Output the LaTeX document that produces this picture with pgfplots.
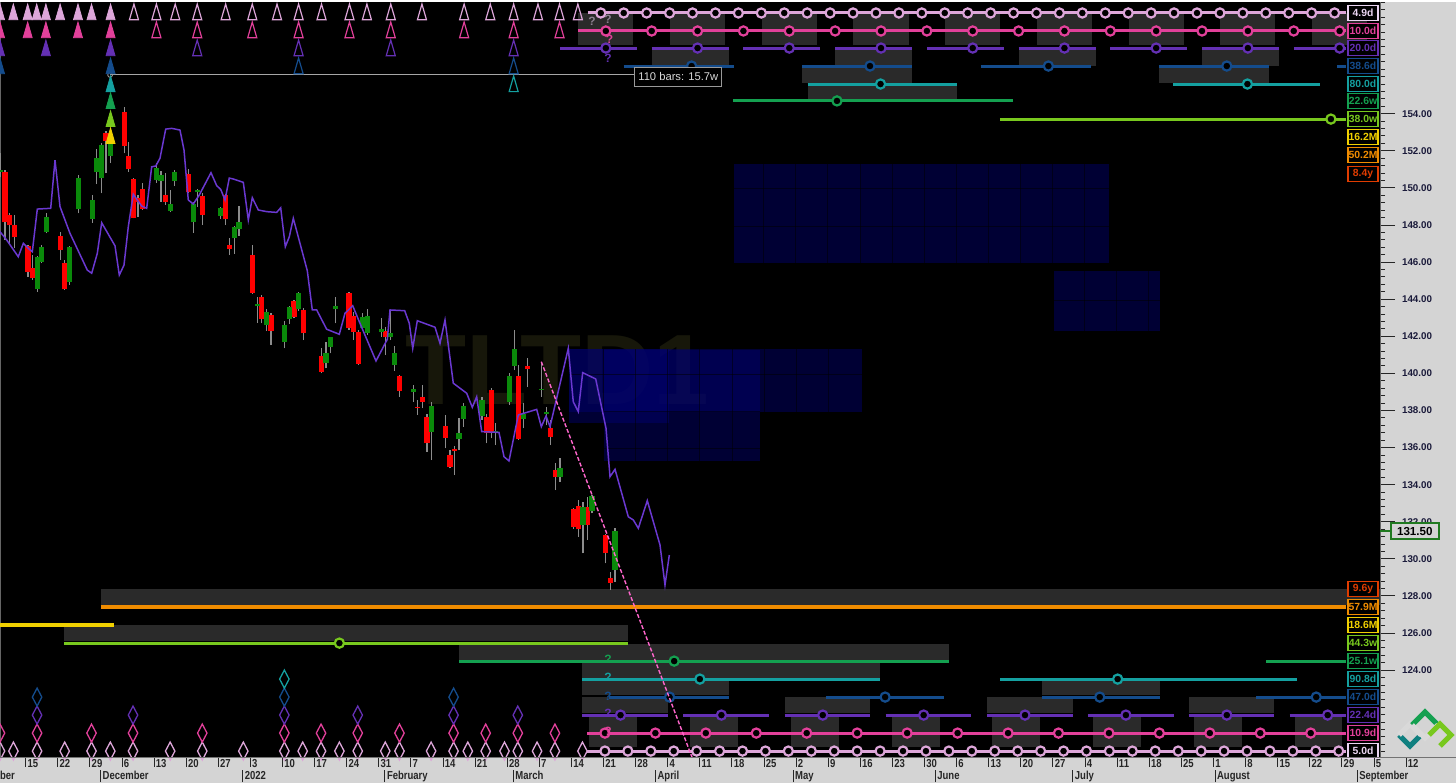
\documentclass[border=0pt]{standalone}
\usepackage{fontspec}
\setmainfont{Liberation Sans}
\newfontfamily\narrowsans[FakeStretch=0.82]{Liberation Sans}
\usepackage{pgfplots}
\pgfplotsset{compat=1.18}
\usepackage{pgfplotstable}

\definecolor{panel}{HTML}{D4D4D4}
\definecolor{gbox}{HTML}{2A2A2A}
\definecolor{c5d}{HTML}{DDA6D9}
\definecolor{c5dt}{HTML}{EBD5F2}
\definecolor{c10d}{HTML}{E2409A}
\definecolor{c20d}{HTML}{6430B4}
\definecolor{c40d}{HTML}{144C8C}
\definecolor{c80d}{HTML}{14A0A0}
\definecolor{c20w}{HTML}{14A050}
\definecolor{c40w}{HTML}{78C81E}
\definecolor{c18M}{HTML}{F0D000}
\definecolor{c54M}{HTML}{F08C00}
\definecolor{c9y}{HTML}{E03C00}
\definecolor{fld}{HTML}{6A38D0}
\definecolor{cred}{HTML}{FF0000}
\definecolor{cgreen}{HTML}{0A8A0A}
\definecolor{wick}{HTML}{8C8C8C}
\definecolor{navyb}{HTML}{000074}
\definecolor{trend}{HTML}{FF66CC}
\definecolor{wm}{HTML}{17170A}
\definecolor{ticktext}{HTML}{1A1A3A}
\definecolor{c131}{HTML}{207A20}

% down (red) candles: day, open, high, low, close
\pgfplotstableread{
d o h l c
-5 150.88 150.95 147.19 148.18
-4 148.54 148.63 147.01 148.00
-3 148.00 148.54 146.74 147.34
0 146.89 146.92 145.21 145.49
1 145.66 146.38 145.04 145.12
7 147.41 147.64 146.11 146.65
8 145.93 146.11 144.50 144.53
17 152.98 153.05 150.79 152.55
21 154.07 154.38 151.86 152.26
22 151.72 152.49 150.88 151.00
23 150.48 150.55 148.36 148.40
24 149.44 149.62 148.45 149.26
25 149.92 150.25 148.81 148.86
30 149.62 150.79 149.08 149.26
35 150.75 151.02 149.71 149.76
38 149.58 149.71 148.00 148.54
43 149.62 149.65 148.00 148.31
44 146.92 147.32 146.38 146.71
49 146.38 146.92 144.28 144.35
51 144.14 144.20 142.70 142.93
53 143.15 143.24 141.53 142.29
58 143.90 143.96 142.97 143.06
60 143.42 143.50 141.80 142.16
64 140.94 141.35 140.00 140.09
70 144.32 144.37 142.34 142.43
71 143.09 143.33 141.80 142.25
72 142.25 142.34 140.45 140.51
78 142.30 142.52 140.99 141.94
81 139.86 139.90 138.74 139.05
85 138.21 138.57 137.76 138.13
86 138.74 139.36 138.12 138.48
87 137.67 137.81 135.78 136.23
91 137.17 137.76 135.96 136.52
92 135.60 135.87 134.88 134.97
93 135.93 136.09 134.52 135.80
100 137.67 137.80 136.23 136.77
101 139.10 139.20 136.50 136.77
107 139.86 140.45 136.41 136.46
109 140.40 140.81 139.28 140.25
114 137.08 137.49 136.14 136.59
115 134.79 135.15 133.71 134.43
119 132.67 132.75 131.60 131.74
120 132.85 133.17 131.20 131.59
122 132.78 133.36 131.02 131.83
126 131.29 131.35 129.76 130.34
127 128.95 129.31 128.32 128.72
}\downbars

% up (green) candles: day, open, high, low, close
\pgfplotstableread{
d o h l c
-6 150.86 151.86 150.61 150.95
2 144.53 146.35 144.41 146.29
3 146.02 146.92 145.93 146.83
4 147.60 148.63 147.55 148.41
9 144.95 146.89 144.77 146.83
11 148.86 150.70 148.63 150.55
14 148.32 149.62 148.13 149.35
15 150.84 152.08 150.21 151.59
16 150.52 152.40 149.71 152.31
18 151.74 152.90 151.33 152.58
28 150.43 151.33 150.28 151.05
29 150.39 150.91 149.26 150.68
31 148.77 149.89 148.68 149.13
32 150.37 150.96 150.10 150.84
36 148.14 149.26 147.59 149.13
37 149.80 149.95 148.99 149.90
42 148.50 148.99 148.32 148.93
45 147.28 147.95 146.44 147.91
46 147.80 149.04 147.43 148.18
50 143.65 144.14 142.74 143.73
52 142.61 143.45 142.29 143.33
56 141.71 142.83 141.35 142.61
57 142.93 143.65 142.66 143.56
59 143.45 144.37 143.38 144.32
65 140.54 141.71 140.27 141.08
66 141.41 141.98 141.08 141.94
67 143.45 144.14 142.70 143.63
73 142.43 143.24 142.34 143.06
74 142.16 143.45 142.07 143.11
77 142.25 142.97 141.98 142.37
79 141.98 143.42 141.80 142.20
80 140.45 141.48 140.15 141.08
84 139.02 139.38 138.48 139.14
88 136.86 138.48 135.33 138.24
94 136.46 137.58 135.87 136.80
95 137.54 138.42 137.13 138.24
99 137.70 138.71 137.50 138.57
102 136.80 137.31 136.14 136.90
105 138.48 140.04 138.30 139.86
106 140.40 142.34 140.18 141.30
108 137.53 138.39 137.04 137.79
112 139.08 140.63 138.75 139.16
113 137.80 138.20 137.20 137.90
116 134.40 135.42 134.16 134.88
121 131.83 133.08 130.30 132.78
123 132.60 133.45 132.45 133.39
128 129.40 131.65 128.77 131.52
}\upbars

% offset price line
\pgfplotstableread{
d p
-6.11 147.64
-4.64 147.19
-2.12 146.29
-1.02 147.01
0.07 146.74
0.94 146.56
2.03 148.86
4.95 148.90
5.89 151.50
6.98 148.99
9.16 147.55
12.93 145.57
13.89 145.40
15.11 146.47
16.07 148.12
18.97 146.88
19.91 145.30
20.93 145.84
21.87 147.91
22.96 149.66
23.83 149.35
24.79 149.02
25.88 148.90
26.97 151.14
27.85 151.18
28.78 151.60
30.03 153.17
31.33 153.21
33.14 153.12
34.02 152.04
34.95 149.35
36.04 149.13
37.35 149.62
39.90 150.82
41.15 150.12
42.02 149.92
42.96 149.35
43.89 150.53
44.77 150.48
46.95 150.30
48.04 148.27
48.91 149.47
50.22 148.81
52.05 148.72
54.23 148.68
55.10 148.93
56.11 146.83
56.98 147.37
57.85 148.36
60.90 145.54
61.99 143.42
62.95 143.42
65.13 142.38
67.88 142.11
69.12 143.24
70.80 143.65
72.39 142.70
75.88 140.67
78.35 141.84
78.94 143.42
82.14 143.38
83.14 142.70
83.89 141.35
84.89 142.84
88.75 142.49
89.84 141.62
90.93 142.88
92.74 139.47
95.66 138.93
96.88 138.17
97.84 138.74
98.93 136.86
102.70 136.82
103.79 135.51
104.88 135.28
106.91 137.76
110.92 138.06
111.93 137.13
112.95 137.70
113.83 137.13
117.81 141.35
118.90 138.47
119.99 137.94
120.95 140.04
123.79 139.70
126.04 137.04
126.91 134.43
128.00 134.83
130.90 132.27
131.99 132.10
133.08 131.65
135.04 133.14
137.81 130.75
138.90 128.59
139.84 130.21
}\fldtable

\newcommand{\grect}[5][gbox]{\addplot[fill=#1, draw=none, forget plot] coordinates {(#2,#4) (#3,#4) (#3,#5) (#2,#5)};}
\newcommand{\nrect}[4]{\addplot[fill=navyb, fill opacity=0.45, draw=none, forget plot] coordinates {(#1,#3) (#2,#3) (#2,#4) (#1,#4)};}
\newcommand{\seg}[4]{\addplot[#4, line width=1.5pt, forget plot] coordinates {(#1,#3) (#2,#3)};}
\newcommand{\circs}[2]{\addplot[only marks, mark=*, mark size=2.3pt, mark options={draw=#1, fill=black, line width=1.1pt}, forget plot] coordinates {#2};}
\newcommand{\lbl}[4][]{\node[draw=#3, line width=0.6pt, fill=black, text=#3, font=\bfseries\fontsize{5.2}{5.2}\selectfont, minimum width=15pt, minimum height=7.5pt, inner sep=0.3pt,#1] at (axis cs:291.1,#2) {#4};}
\newcommand{\qm}[3]{\node[text=#3, font=\bfseries\fontsize{6}{6}\selectfont, inner sep=0pt] at (axis cs:#1,#2) {?};}
\newcommand{\mrule}{\rule[-1.5pt]{0.5pt}{6pt}\hspace{0.8pt}}

\begin{document}
\begin{tikzpicture}
\fill[panel] (0,0) rectangle (728pt,391.5pt);
\begin{axis}[
  at={(0pt,13pt)}, anchor=south west,
  scale only axis, width=690pt, height=378.5pt,
  xmin=-6.106, xmax=294.81, ymin=119.32, ymax=160.13,
  axis background/.style={fill=black},
  axis line style={draw=black!60, line width=0.4pt},
  clip mode=individual,
  xtick=\empty,
  ytick={124,126,...,154},
  minor ytick={119.6,120,...,160},
  ytick pos=right, yticklabel pos=right,
  tick align=outside,
  major tick length=7.5pt, minor tick length=2.5pt,
  tick style={draw=black!85, line width=0.5pt},
  yticklabel style={font=\bfseries\fontsize{4.9}{5.5}\selectfont, text=ticktext, anchor=west},
  /pgf/number format/.cd, fixed, fixed zerofill, precision=2, assume math mode=true
]
% watermark
\node[text=wm, font=\bfseries\fontsize{50}{50}\selectfont, inner sep=0pt] at (axis cs:115.5,140.2) {TLTD1};

% navy time/price boxes
\nrect{153.9}{235.8}{145.93}{151.29}
\nrect{223.7}{246.8}{142.30}{145.52}
\nrect{117.9}{181.8}{137.93}{141.30}
\nrect{125.5}{159.7}{135.29}{141.26}
\nrect{117.9}{139.7}{137.33}{141.30}
\pgfplotsinvokeforeach{160.4,167.4,...,230.4}{\addplot[black, draw opacity=0.5, line width=0.4pt, forget plot] coordinates {(#1,145.93) (#1,151.29)};}
\addplot[black, draw opacity=0.5, line width=0.4pt, forget plot] coordinates {(153.9,149.98) (235.8,149.98)};
\addplot[black, draw opacity=0.5, line width=0.4pt, forget plot] coordinates {(153.9,147.95) (235.8,147.95)};
\pgfplotsinvokeforeach{230.4,237.4,244.4}{\addplot[black, draw opacity=0.5, line width=0.4pt, forget plot] coordinates {(#1,142.30) (#1,145.52)};}
\addplot[black, draw opacity=0.5, line width=0.4pt, forget plot] coordinates {(223.7,143.92) (246.8,143.92)};
\pgfplotsinvokeforeach{125.5,132.5,139.5,146.5,153.5,160.5,167.5,174.5}{\addplot[black, draw opacity=0.5, line width=0.4pt, forget plot] coordinates {(#1,137.93) (#1,141.30)};}
\pgfplotsinvokeforeach{132.5,139.5,146.5,153.5}{\addplot[black, draw opacity=0.5, line width=0.4pt, forget plot] coordinates {(#1,135.29) (#1,137.93)};}
\addplot[black, draw opacity=0.5, line width=0.4pt, forget plot] coordinates {(117.9,139.97) (181.8,139.97)};
\addplot[black, draw opacity=0.5, line width=0.4pt, forget plot] coordinates {(125.5,137.97) (159.7,137.97)};
\addplot[black, draw opacity=0.5, line width=0.4pt, forget plot] coordinates {(125.5,135.96) (159.7,135.96)};

% ---- top cycle boxes
\pgfplotsinvokeforeach{126,146,166,186,206,226,246,266,286}{\grect{#1-6}{#1+6}{157.70}{159.43}}
\pgfplotsinvokeforeach{146,186,226,266}{\grect{#1-10}{#1+6.8}{156.57}{157.54}}
\grect{168.8}{192.8}{155.66}{156.57}
\grect{246.6}{270.6}{155.66}{156.57}
\grect{170}{202.6}{154.74}{155.60}

% ---- bottom cycle boxes
\grect{15.9}{294.9}{127.51}{128.38}
\grect{7.85}{130.8}{125.57}{126.44}
\grect{94.0}{200.8}{124.55}{125.41}
\grect{120.9}{185.7}{123.58}{124.44}
\grect{120.9}{152.8}{122.66}{123.52}
\grect{221.0}{246.8}{122.66}{123.52}
\pgfplotsinvokeforeach{120.9,165.0,209.1,253.1}{\grect{#1}{#1+18.7}{121.69}{122.55}}
\pgfplotsinvokeforeach{122.4,144.4,166.4,188.4,210.3,232.3,254.3,276.2}{\grect{#1}{#1+10.4}{119.86}{121.58}}

% ---- top cycle lines
\seg{122}{287.5}{159.43}{c5d}
\circs{c5d}{(124.9,159.43) (129.9,159.43) (134.9,159.43) (139.9,159.43) (144.9,159.43) (149.9,159.43) (154.9,159.43) (159.9,159.43) (164.9,159.43) (169.9,159.43) (174.9,159.43) (179.9,159.43) (184.9,159.43) (189.9,159.43) (194.9,159.43) (199.9,159.43) (204.9,159.43) (209.9,159.43) (214.9,159.43) (219.9,159.43) (224.9,159.43) (229.9,159.43) (234.9,159.43) (239.9,159.43) (244.9,159.43) (249.9,159.43) (254.9,159.43) (259.9,159.43) (264.9,159.43) (269.9,159.43) (274.9,159.43) (279.9,159.43) (284.9,159.43)}
\seg{119.9}{287.5}{158.46}{c10d}
\circs{c10d}{(126,158.46) (136,158.46) (146,158.46) (156,158.46) (166,158.46) (176,158.46) (186,158.46) (196,158.46) (206,158.46) (216,158.46) (226,158.46) (236,158.46) (246,158.46) (256,158.46) (266,158.46) (276,158.46) (286,158.46)}
\pgfplotsinvokeforeach{126,146,166,186,206,226,246,266}{\seg{#1-10}{#1+6.8}{157.54}{c20d}}
\seg{276}{287.5}{157.54}{c20d}
\circs{c20d}{(126,157.54) (146,157.54) (166,157.54) (186,157.54) (206,157.54) (226,157.54) (246,157.54) (266,157.54) (286,157.54)}
\pgfplotsinvokeforeach{144.7,183.6,222.5,261.4}{\seg{#1-14.8}{#1+9.2}{156.57}{c40d}}
\seg{285.5}{287.5}{156.57}{c40d}
\circs{c40d}{(144.7,156.57) (183.6,156.57) (222.5,156.57) (261.4,156.57)}
\seg{170}{202.6}{155.60}{c80d}
\seg{249.7}{281.8}{155.60}{c80d}
\circs{c80d}{(185.9,155.60) (265.9,155.60)}
\seg{153.8}{214.8}{154.69}{c20w}
\circs{c20w}{(176.4,154.69)}
\seg{211.9}{287.5}{153.71}{c40w}
\circs{c40w}{(284.1,153.71)}

% ---- bottom cycle lines
\addplot[c54M, line width=2pt, forget plot] coordinates {(15.9,127.43) (287.5,127.43)};
\addplot[c18M, line width=1.8pt, forget plot] coordinates {(-7,126.44) (18.75,126.44)};
\seg{7.85}{130.8}{125.46}{c40w}
\circs{c40w}{(67.9,125.46)}
\seg{94.0}{200.8}{124.49}{c20w}
\seg{270}{287.5}{124.49}{c20w}
\circs{c20w}{(140.9,124.49)}
\seg{120.9}{185.7}{123.52}{c80d}
\seg{211.9}{276.7}{123.52}{c80d}
\circs{c80d}{(146.5,123.52) (237.6,123.52)}
\seg{126.7}{152.8}{122.55}{c40d}
\seg{173.9}{199.8}{122.55}{c40d}
\seg{221.0}{246.8}{122.55}{c40d}
\seg{267.8}{287.5}{122.55}{c40d}
\circs{c40d}{(139.9,122.55) (186.9,122.55) (233.7,122.55) (280.9,122.55)}
\pgfplotsinvokeforeach{129.2,151.2,173.3,195.3,217.4,239.4,261.4}{\seg{#1-8.3}{#1+10.4}{121.58}{c20d}}
\seg{275.1}{287.5}{121.58}{c20d}
\circs{c20d}{(129.2,121.58) (151.2,121.58) (173.3,121.58) (195.3,121.58) (217.4,121.58) (239.4,121.58) (261.4,121.58) (283.4,121.58)}
\seg{121.9}{287.5}{120.61}{c10d}
\circs{c10d}{(125.8,120.61) (136.8,120.61) (147.8,120.61) (158.8,120.61) (169.8,120.61) (180.8,120.61) (191.7,120.61) (202.7,120.61) (213.7,120.61) (224.7,120.61) (235.7,120.61) (246.7,120.61) (257.7,120.61) (268.7,120.61) (279.7,120.61)}
\seg{121.9}{287.5}{119.64}{c5d}
\circs{c5d}{(125.8,119.64) (130.8,119.64) (135.8,119.64) (140.8,119.64) (145.8,119.64) (150.8,119.64) (155.8,119.64) (160.8,119.64) (165.8,119.64) (170.8,119.64) (175.8,119.64) (180.8,119.64) (185.8,119.64) (190.8,119.64) (195.8,119.64) (200.8,119.64) (205.8,119.64) (210.8,119.64) (215.8,119.64) (220.8,119.64) (225.8,119.64) (230.8,119.64) (235.8,119.64) (240.8,119.64) (245.8,119.64) (250.8,119.64) (255.8,119.64) (260.8,119.64) (265.8,119.64) (270.8,119.64) (275.8,119.64) (280.8,119.64) (285.8,119.64)}

% ---- 110 bars line
\addplot[black!35!white, line width=0.5pt, mark=none, forget plot] coordinates {(17.9,156.09) (132.8,156.09)};
\addplot[only marks, mark=o, mark size=1.2pt, mark options={draw=black!35!white, line width=0.4pt}, forget plot] coordinates {(17.9,156.09)};

% ---- candles
\addplot[draw=none, mark=none, forget plot, error bars/.cd, y dir=plus, y explicit, error mark=none, error bar style={line width=0.6pt, draw=wick}] table[x=d, y=l, y error plus expr={\thisrow{h}-\thisrow{l}}] {\downbars};
\addplot[draw=none, mark=none, forget plot, error bars/.cd, y dir=plus, y explicit, error mark=none, error bar style={line width=0.6pt, draw=wick}] table[x=d, y=l, y error plus expr={\thisrow{h}-\thisrow{l}}] {\upbars};
\addplot[draw=none, mark=none, forget plot, error bars/.cd, y dir=plus, y explicit, error mark=none, error bar style={line width=2.6pt, draw=cred}] table[x=d, y=c, y error plus expr={\thisrow{o}-\thisrow{c}}] {\downbars};
\addplot[draw=none, mark=none, forget plot, error bars/.cd, y dir=plus, y explicit, error mark=none, error bar style={line width=2.6pt, draw=cgreen}] table[x=d, y=o, y error plus expr={\thisrow{c}-\thisrow{o}}] {\upbars};

% ---- offset line and trend line
\addplot[fld, line width=0.75pt, forget plot] table[x=d, y=p] {\fldtable};
\addplot[trend, line width=0.7pt, dash pattern=on 2pt off 1pt, forget plot] coordinates {(111.93,140.63) (146.5,118.2)};

% ---- top triangles (peak markers)
\addplot[only marks, mark=triangle*, mark size=2.6pt, mark options={yscale=2, draw=c5d, fill=c5d}, forget plot] coordinates {(-6.1,159.35) (-3.2,159.35) (-0.07,159.35) (1.9,159.35) (3.9,159.35) (7.0,159.35) (10.9,159.35) (13.85,159.35) (18.0,159.35)};
\addplot[only marks, mark=triangle, mark size=2.6pt, mark options={yscale=2, draw=c5d, fill=black, line width=0.6pt}, forget plot] coordinates {(23.1,159.35) (28.0,159.35) (32.1,159.35) (36.9,159.35) (43.1,159.35) (48.9,159.35) (54.3,159.35) (59.0,159.35) (64.0,159.35) (70.1,159.35) (73.9,159.35) (79.1,159.35) (85.9,159.35) (95.1,159.35) (100.8,159.35) (105.9,159.35) (111.2,159.35) (115.9,159.35) (119.9,159.35)};
\addplot[only marks, mark=triangle*, mark size=2.6pt, mark options={yscale=2, draw=c10d, fill=c10d}, forget plot] coordinates {(-6.1,158.38) (-0.07,158.38) (3.9,158.38) (10.9,158.38) (18.0,158.38)};
\addplot[only marks, mark=triangle, mark size=2.6pt, mark options={yscale=2, draw=c10d, fill=black, line width=0.6pt}, forget plot] coordinates {(28.0,158.38) (36.9,158.38) (48.9,158.38) (59.0,158.38) (70.1,158.38) (79.1,158.38) (95.1,158.38) (105.9,158.38) (115.9,158.38)};
\addplot[only marks, mark=triangle*, mark size=2.6pt, mark options={yscale=2, draw=c20d, fill=c20d}, forget plot] coordinates {(-6.1,157.41) (3.9,157.41) (18.0,157.41)};
\addplot[only marks, mark=triangle, mark size=2.6pt, mark options={yscale=2, draw=c20d, fill=black, line width=0.6pt}, forget plot] coordinates {(36.9,157.41) (59.0,157.41) (79.1,157.41) (105.9,157.41)};
\addplot[only marks, mark=triangle*, mark size=2.6pt, mark options={yscale=2, draw=c40d, fill=c40d}, forget plot] coordinates {(-6.1,156.44) (18.0,156.44)};
\addplot[only marks, mark=triangle, mark size=2.6pt, mark options={yscale=2, draw=c40d, fill=black, line width=0.6pt}, forget plot] coordinates {(59.0,156.44) (105.9,156.44)};
\addplot[only marks, mark=triangle*, mark size=2.6pt, mark options={yscale=2, draw=c80d, fill=c80d}, forget plot] coordinates {(18.0,155.47)};
\addplot[only marks, mark=triangle, mark size=2.6pt, mark options={yscale=2, draw=c80d, fill=black, line width=0.6pt}, forget plot] coordinates {(105.9,155.47)};
\addplot[only marks, mark=triangle*, mark size=2.6pt, mark options={yscale=2, draw=c20w, fill=c20w}, forget plot] coordinates {(18.0,154.56)};
\addplot[only marks, mark=triangle*, mark size=2.6pt, mark options={yscale=2, draw=c40w, fill=c40w}, forget plot] coordinates {(18.0,153.59)};
\addplot[only marks, mark=triangle*, mark size=2.6pt, mark options={yscale=2, draw=c18M, fill=c18M}, forget plot] coordinates {(18.0,152.67)};

% ---- bottom diamonds (trough markers)
\addplot[only marks, mark=diamond, mark size=4.5pt, mark options={xscale=0.7, draw=c5d, fill=black, line width=0.65pt}, forget plot] coordinates {(-6.1,119.64) (-3.18,119.64) (1.98,119.64) (8.0,119.64) (13.85,119.64) (17.95,119.64) (22.9,119.64) (31.0,119.64) (38.0,119.64) (46.95,119.64) (55.9,119.64) (59.9,119.64) (63.9,119.64) (67.9,119.64) (71.9,119.64) (77.9,119.64) (81.0,119.64) (87.9,119.64) (92.8,119.64) (95.9,119.64) (99.8,119.64) (103.9,119.64) (106.8,119.64) (111.0,119.64) (114.9,119.64) (120.9,119.64)};
\addplot[only marks, mark=diamond, mark size=4.5pt, mark options={xscale=0.7, draw=c10d, fill=black, line width=0.65pt}, forget plot] coordinates {(-6.1,120.61) (1.98,120.61) (13.85,120.61) (22.9,120.61) (38.0,120.61) (55.9,120.61) (63.9,120.61) (71.9,120.61) (81.0,120.61) (92.8,120.61) (99.8,120.61) (106.8,120.61) (114.9,120.61)};
\addplot[only marks, mark=diamond, mark size=4.5pt, mark options={xscale=0.7, draw=c20d, fill=black, line width=0.65pt}, forget plot] coordinates {(1.98,121.58) (22.9,121.58) (55.9,121.58) (71.9,121.58) (92.8,121.58) (106.8,121.58)};
\addplot[only marks, mark=diamond, mark size=4.5pt, mark options={xscale=0.7, draw=c40d, fill=black, line width=0.65pt}, forget plot] coordinates {(1.98,122.55) (55.9,122.55) (92.8,122.55)};
\addplot[only marks, mark=diamond, mark size=4.5pt, mark options={xscale=0.7, draw=c80d, fill=black, line width=0.65pt}, forget plot] coordinates {(55.9,123.52)};

% ---- question marks
\qm{123}{159.0}{black!40!c5dt}
\qm{126.5}{159.1}{black!40!c5dt}
\qm{126.8}{158.0}{c10d}
\qm{126.5}{157.0}{c20d}
\qm{126.5}{124.6}{c20w}
\qm{126.5}{123.6}{c80d}
\qm{126.5}{122.6}{c40d}
\qm{126.5}{121.7}{c20d}
\qm{126.5}{120.7}{c10d}

% ---- 110 bars label
\node[draw=black!40!white, line width=0.5pt, fill=black, text=black!15!white, font=\fontsize{5.6}{6}\selectfont, minimum width=43.5pt, minimum height=9.5pt, inner sep=0.5pt] at (axis cs:141.8,156.0) {110 bars: 15.7w};

% ---- right side cycle labels
\lbl{159.43}{c5dt}{4.9d}
\lbl{158.46}{c10d}{10.0d}
\lbl{157.54}{c20d}{20.0d}
\lbl{156.57}{c40d}{38.6d}
\lbl{155.60}{c80d}{80.0d}
\lbl{154.69}{c20w}{22.6w}
\lbl{153.71}{c40w}{38.0w}
\lbl{152.74}{c18M}{16.2M}
\lbl{151.77}{c54M}{50.2M}
\lbl{150.75}{c9y}{8.4y}
\lbl{128.38}{c9y}{9.6y}
\lbl{127.41}{c54M}{57.9M}
\lbl{126.44}{c18M}{18.6M}
\lbl{125.46}{c40w}{44.3w}
\lbl{124.49}{c20w}{25.1w}
\lbl{123.52}{c80d}{90.8d}
\lbl{122.55}{c40d}{47.0d}
\lbl{121.58}{c20d}{22.4d}
\lbl{120.61}{c10d}{10.9d}
\lbl{119.64}{c5dt}{5.0d}

% ---- last price
\draw[c131, line width=0.8pt] (axis cs:294.81,131.5) -- (axis cs:297.2,131.5);
\node[draw=c131, line width=0.9pt, fill=panel, text=black, font=\bfseries\fontsize{5.8}{6}\selectfont, minimum width=24pt, minimum height=8pt, inner sep=0.5pt] at (axis cs:302.4,131.5) {131.50};
\end{axis}

% ---- date axis
\begin{axis}[
  at={(0pt,0pt)}, anchor=south west,
  scale only axis, width=728pt, height=13pt,
  xmin=-6.106, xmax=311.38, ymin=0, ymax=1,
  axis line style={draw=none},
  ytick=\empty,
  xtick={-0.5,6.5,...,300.5},
  xticklabels={15,22,29,6,13,20,27,3,10,17,24,31,7,14,21,28,7,14,21,28,4,11,18,25,2,9,16,23,30,6,13,20,27,4,11,18,25,1,8,15,22,29,5,12},
  xtick pos=right, xticklabel pos=right,
  tick align=inside, major tick length=5pt,
  tick style={draw=black!85, line width=0.5pt},
  xticklabel style={anchor=north west, inner sep=0.5pt, xshift=0.2pt, yshift=-0.5pt, font=\narrowsans\bfseries\fontsize{5.8}{6}\selectfont, text=black!85},
  extra x ticks={15.5,46.5,77.5,105.5,136.5,166.5,197.5,227.5,258.5,289.5},
  extra x tick labels={{\mrule December},{\mrule 2022},{\mrule February},{\mrule March},{\mrule April},{\mrule May},{\mrule June},{\mrule July},{\mrule August},{\mrule September}},
  extra x tick style={major tick length=0pt, xticklabel style={yshift=-5.3pt, xshift=-0.4pt}},
  clip=false,
]
\node[anchor=north west, inner sep=0.5pt, yshift=-5.8pt, xshift=-0.2pt, font=\narrowsans\bfseries\fontsize{5.8}{6}\selectfont, text=black!85] at (axis cs:-13.8,1) {\mrule November};
\end{axis}
\draw[black!55, line width=0.5pt] (0,13pt) -- (728pt,13pt);
\fill[white] (0,390.6pt) rectangle (728pt,391.5pt);
% logo
\begin{scope}[line width=2.6pt, line join=miter]
\draw[c80d!80!black] (699.5pt,24pt) -- (705pt,18.5pt) -- (710.5pt,24pt);
\draw[white!85!black] (699.5pt,24pt) -- (705pt,29.5pt) -- (710.5pt,24pt);
\draw[c20w] (706pt,29pt) -- (712.5pt,35.5pt) -- (719pt,29pt);
\draw[white!85!black] (706pt,29pt) -- (712.5pt,22.5pt) -- (719pt,29pt);
\draw[c40w] (714.5pt,24pt) -- (720pt,29.5pt) -- (725.5pt,24pt) -- (720pt,18.5pt);
\end{scope}
\pgfresetboundingbox
\path[use as bounding box] (0,0) rectangle (728pt,391.5pt);
\end{tikzpicture}
\end{document}
